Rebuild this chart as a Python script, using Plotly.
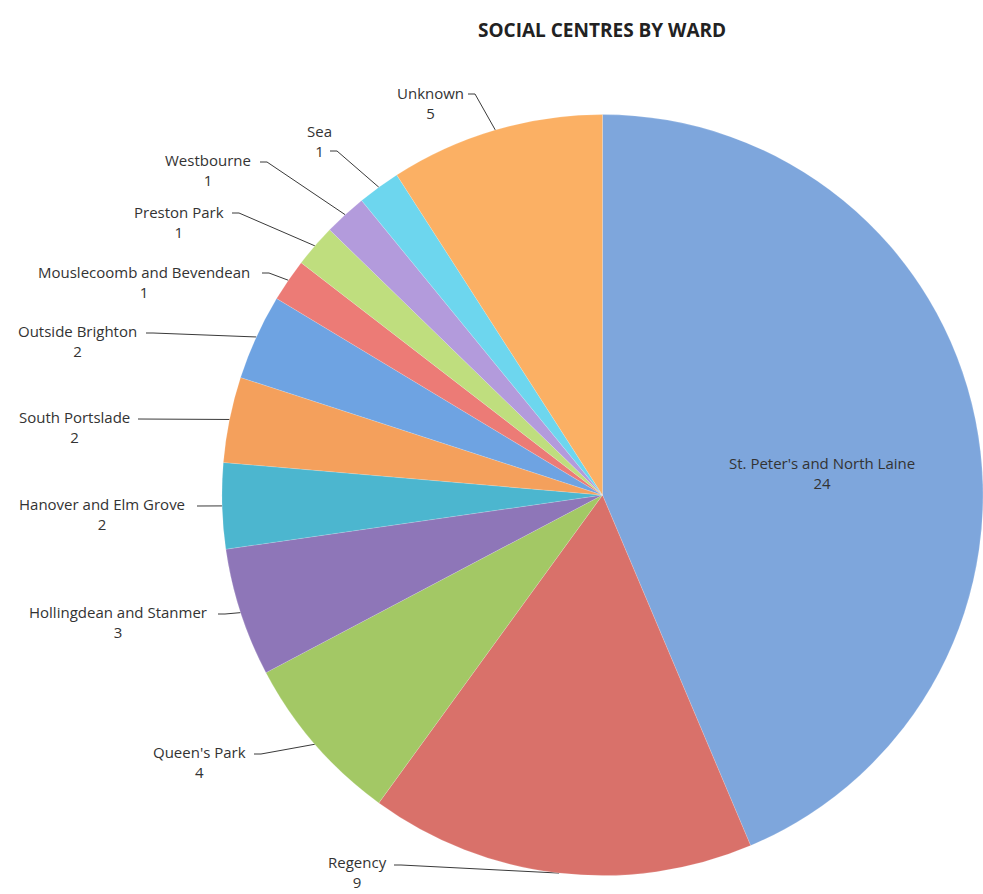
import math
import plotly.graph_objects as go

# ---- data ----
wards = ["St. Peter's and North Laine", "Regency", "Queen's Park",
         "Hollingdean and Stanmer", "Hanover and Elm Grove", "South Portslade",
         "Outside Brighton", "Mouslecoomb and Bevendean", "Preston Park",
         "Westbourne", "Sea", "Unknown"]
counts = [24, 9, 4, 3, 2, 2, 2, 1, 1, 1, 1, 5]

# ---- styles ----
colors = ["#7ea6dc", "#d9716a", "#a3c865", "#8e76b8", "#4cb6cf", "#f4a05c",
          "#6ea3e2", "#ec7b76", "#bfde7e", "#b39bdc", "#6dd6ee", "#fbb064"]
FONT = "Open Sans"
LABEL_SIZE = 15
W, H = 983, 894
dom_x = [0.2258, 1.0]
dom_y = [0.020, 0.8725]

# label layout (pixel positions): centre x of text, y of name line,
# and start point of the leader line (None = inside label, no line)
label_cx = [822, 357, 199, 118, 102, 74, 77, 144, 179, 208, 319, 430]
label_ny = [463, 862, 752, 612, 504, 417, 331, 272, 212, 160, 131, 93]
line_start = [None, (394, 865), (254, 754), (218, 614), (197, 506), (138, 419),
              (146, 333), (262, 273), (232, 213), (260, 162), (330, 151), (468, 94)]
half_line = 10  # half the distance between name line and value line

# pie geometry (derived from domain)
cx = W * (dom_x[0] + dom_x[1]) / 2
cy = H * (1 - (dom_y[0] + dom_y[1]) / 2)
r = min(W * (dom_x[1] - dom_x[0]), H * (dom_y[1] - dom_y[0])) / 2

total = sum(counts)
cum = 0
edge_pts = []
for v in counts:
    mid = (cum + v / 2) / total * 2 * math.pi
    edge_pts.append((cx + r * math.sin(mid), cy - r * math.cos(mid)))
    cum += v

fig = go.Figure()
fig.add_trace(go.Pie(
    labels=wards, values=counts, sort=False, direction="clockwise", rotation=0,
    marker=dict(colors=colors, line=dict(color="rgba(255,255,255,0.3)", width=0.5)),
    textinfo="none", hoverinfo="label+value",
    domain=dict(x=dom_x, y=dom_y), showlegend=False,
))

annotations = []
for i, (name, v) in enumerate(zip(wards, counts)):
    annotations.append(dict(x=label_cx[i], y=label_ny[i] + half_line, xref="x", yref="y",
                            text=f"{name}<br>{v}", showarrow=False, align="center",
                            xanchor="center", yanchor="middle", borderpad=0,
                            font=dict(family=FONT, size=LABEL_SIZE, color="#333333")))
    if line_start[i] is not None:
        sx, sy = line_start[i]
        ex, ey = edge_pts[i]
        fig.add_trace(go.Scatter(x=[sx, sx + 7, ex], y=[sy, sy, ey], mode="lines",
                                 line=dict(color="#3a3a3a", width=1),
                                 hoverinfo="skip", showlegend=False))

annotations.append(dict(x=602, y=30, xref="x", yref="y", text="<b>SOCIAL CENTRES BY WARD</b>",
                        showarrow=False, xanchor="center", yanchor="middle",
                        font=dict(family=FONT, size=19, color="#222222")))

fig.update_layout(
    width=W, height=H, margin=dict(l=0, r=0, t=0, b=0),
    paper_bgcolor="white", plot_bgcolor="rgba(0,0,0,0)",
    xaxis=dict(range=[0, W], visible=False, domain=[0, 1], fixedrange=True),
    yaxis=dict(range=[H, 0], visible=False, domain=[0, 1], fixedrange=True),
    annotations=annotations, showlegend=False,
)
fig.write_html("out.html")
